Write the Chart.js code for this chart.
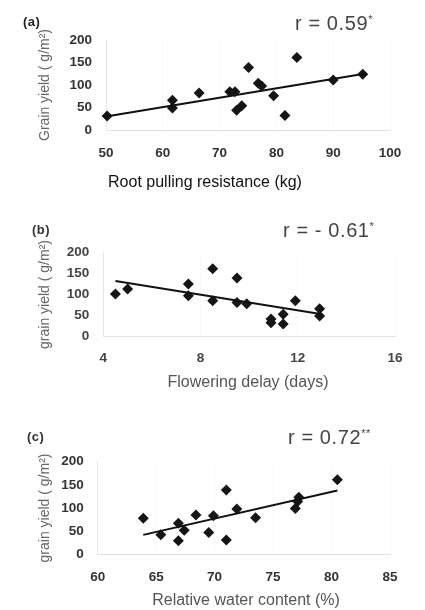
<!DOCTYPE html>
<html>
<head>
<meta charset="utf-8">
<script src="https://cdn.jsdelivr.net/npm/chart.js@4"></script>
<style>
  html, body { margin: 0; padding: 0; background: #fff; }
  body { width: 425px; height: 610px; position: relative; overflow: hidden; font-family: "Liberation Sans", Arial, sans-serif; }
  .cv { position: absolute; left: 0; width: 425px; }
  .t { position: absolute; white-space: nowrap; line-height: 1; }
  .lab { font-size: 13px; font-weight: bold; color: #222; letter-spacing: 0.5px; }
  .r { font-size: 20px; color: #444; letter-spacing: 0.6px; }
  .r sup { font-size: 11px; vertical-align: 7px; }
  .xt { font-size: 16px; transform: translateX(-50%); }
</style>
</head>
<body>
<div class="cv" style="top:0;height:200px"><canvas id="ca"></canvas></div>
<div class="cv" style="top:200px;height:200px"><canvas id="cb"></canvas></div>
<div class="cv" style="top:400px;height:210px"><canvas id="cc"></canvas></div>

<div class="t lab" style="left:23px;top:15px">(a)</div>
<div class="t r" style="left:295px;top:13px">r = 0.59<sup>*</sup></div>
<div class="t xt" style="left:205px;top:174px;color:#111">Root pulling resistance (kg)</div>

<div class="t lab" style="left:32px;top:223px;color:#333">(b)</div>
<div class="t r" style="left:283px;top:220px">r = - 0.61<sup>*</sup></div>
<div class="t xt" style="left:248px;top:374px;color:#555">Flowering delay (days)</div>

<div class="t lab" style="left:27px;top:430px;color:#333">(c)</div>
<div class="t r" style="left:288px;top:427px">r = 0.72<sup>**</sup></div>
<div class="t xt" style="left:246px;top:592px;color:#555">Relative water content (%)</div>

<script>
// ---- data ----
const rootPullX = [50.2, 61.7, 61.7, 66.4, 71.8, 72.7, 73.0, 73.9, 75.1, 76.8, 77.4, 79.5, 81.5, 83.6, 90.0, 95.2];
const rootPullY = [31, 66, 49, 82, 85, 85, 44, 54, 139, 104, 98, 76, 32, 161, 111, 124];
const rootTrendX = [50, 95.5];
const rootTrendY = [30, 125];

const flowerX = [4.5, 5.0, 7.5, 7.5, 8.5, 8.5, 9.5, 9.5, 9.9, 10.9, 10.9, 11.4, 11.4, 11.9, 12.9, 12.9];
const flowerY = [101, 113, 125, 97, 161, 85, 139, 81, 78, 42, 33, 53, 30, 85, 66, 49];
const flowerTrendX = [4.5, 13];
const flowerTrendY = [132, 53];

const rwcX = [63.9, 65.4, 66.9, 66.9, 67.4, 68.4, 69.5, 69.9, 71.0, 71.0, 71.9, 73.5, 76.9, 77.1, 77.2, 80.5];
const rwcY = [78, 42, 29, 67, 52, 85, 47, 83, 139, 31, 98, 79, 99, 114, 123, 161];
const rwcTrendX = [63.9, 80.5];
const rwcTrendY = [42, 138];

const yTicksRange = { min: 0, max: 200, step: 50 };
const xRangeA = { min: 50, max: 100, step: 10 };
const xRangeB = { min: 4, max: 16, step: 4 };
const xRangeC = { min: 60, max: 85, step: 5 };

const yTitleA = 'Grain yield ( g/m\u00B2)';
const yTitleB = 'grain yield ( g/m\u00B2)';
const yTitleC = 'grain yield ( g/m\u00B2)';

function pts(xs, ys) { return xs.map((x, i) => ({ x: x, y: ys[i] })); }

const FONT = "'Liberation Sans', Arial, sans-serif";

function makeChart(id, cfg) {
  new Chart(document.getElementById(id), {
    type: 'scatter',
    data: {
      datasets: [
        {
          data: pts(cfg.xs, cfg.ys),
          pointStyle: 'rectRot',
          pointRadius: 5.5,
          pointHoverRadius: 5.5,
          backgroundColor: '#151515',
          borderColor: '#151515',
          borderWidth: 0,
          showLine: false,
          clip: false,
          order: 2
        },
        {
          data: pts(cfg.tx, cfg.ty),
          showLine: true,
          pointRadius: 0,
          borderColor: '#111',
          borderWidth: 2,
          fill: false,
          clip: false,
          order: 1
        }
      ]
    },
    options: {
      responsive: true,
      maintainAspectRatio: false,
      animation: false,
      events: [],
      layout: { padding: cfg.pad },
      plugins: { legend: { display: false }, tooltip: { enabled: false } },
      scales: {
        x: {
          type: 'linear',
          min: cfg.xr.min, max: cfg.xr.max,
          afterFit: s => { s.height = cfg.xh; },
          grid: { display: true, color: '#f4f4f4', drawTicks: false },
          border: { display: true, color: '#e2e2e2', dash: [2, 2] },
          ticks: {
            stepSize: cfg.xr.step,
            padding: cfg.xpad,
            color: cfg.tickColor,
            font: { family: FONT, size: 13.5, weight: 'bold' }
          }
        },
        y: {
          type: 'linear',
          min: yTicksRange.min, max: yTicksRange.max,
          afterFit: s => { s.width = cfg.yw; },
          grid: { display: false, drawTicks: false },
          border: { display: true, color: '#e6e6e6', dash: [2, 2] },
          ticks: {
            stepSize: yTicksRange.step,
            padding: cfg.ypad,
            color: cfg.tickColor,
            font: { family: FONT, size: 13.5, weight: 'bold' }
          },
          title: {
            display: true,
            text: cfg.ytitle,
            color: '#666',
            padding: { top: 36.6, bottom: 0 },
            font: { family: FONT, size: 14 }
          }
        }
      }
    }
  });
}

makeChart('ca', {
  xs: rootPullX, ys: rootPullY, tx: rootTrendX, ty: rootTrendY,
  xr: xRangeA, ytitle: yTitleA,
  pad: { top: 40, right: 35, left: 0, bottom: 0 },
  xh: 70, yw: 106, xpad: 15, ypad: 14,
  tickColor: '#333'
});
makeChart('cb', {
  xs: flowerX, ys: flowerY, tx: flowerTrendX, ty: flowerTrendY,
  xr: xRangeB, ytitle: yTitleB,
  pad: { top: 52.3, right: 30, left: 0, bottom: 0 },
  xh: 63.3, yw: 103.3, xpad: 13, ypad: 14,
  tickColor: '#444'
});
makeChart('cc', {
  xs: rwcX, ys: rwcY, tx: rwcTrendX, ty: rwcTrendY,
  xr: xRangeC, ytitle: yTitleC,
  pad: { top: 61.7, right: 35, left: 0, bottom: 0 },
  xh: 55.7, yw: 97.7, xpad: 15, ypad: 14,
  tickColor: '#333'
});
</script>
</body>
</html>
